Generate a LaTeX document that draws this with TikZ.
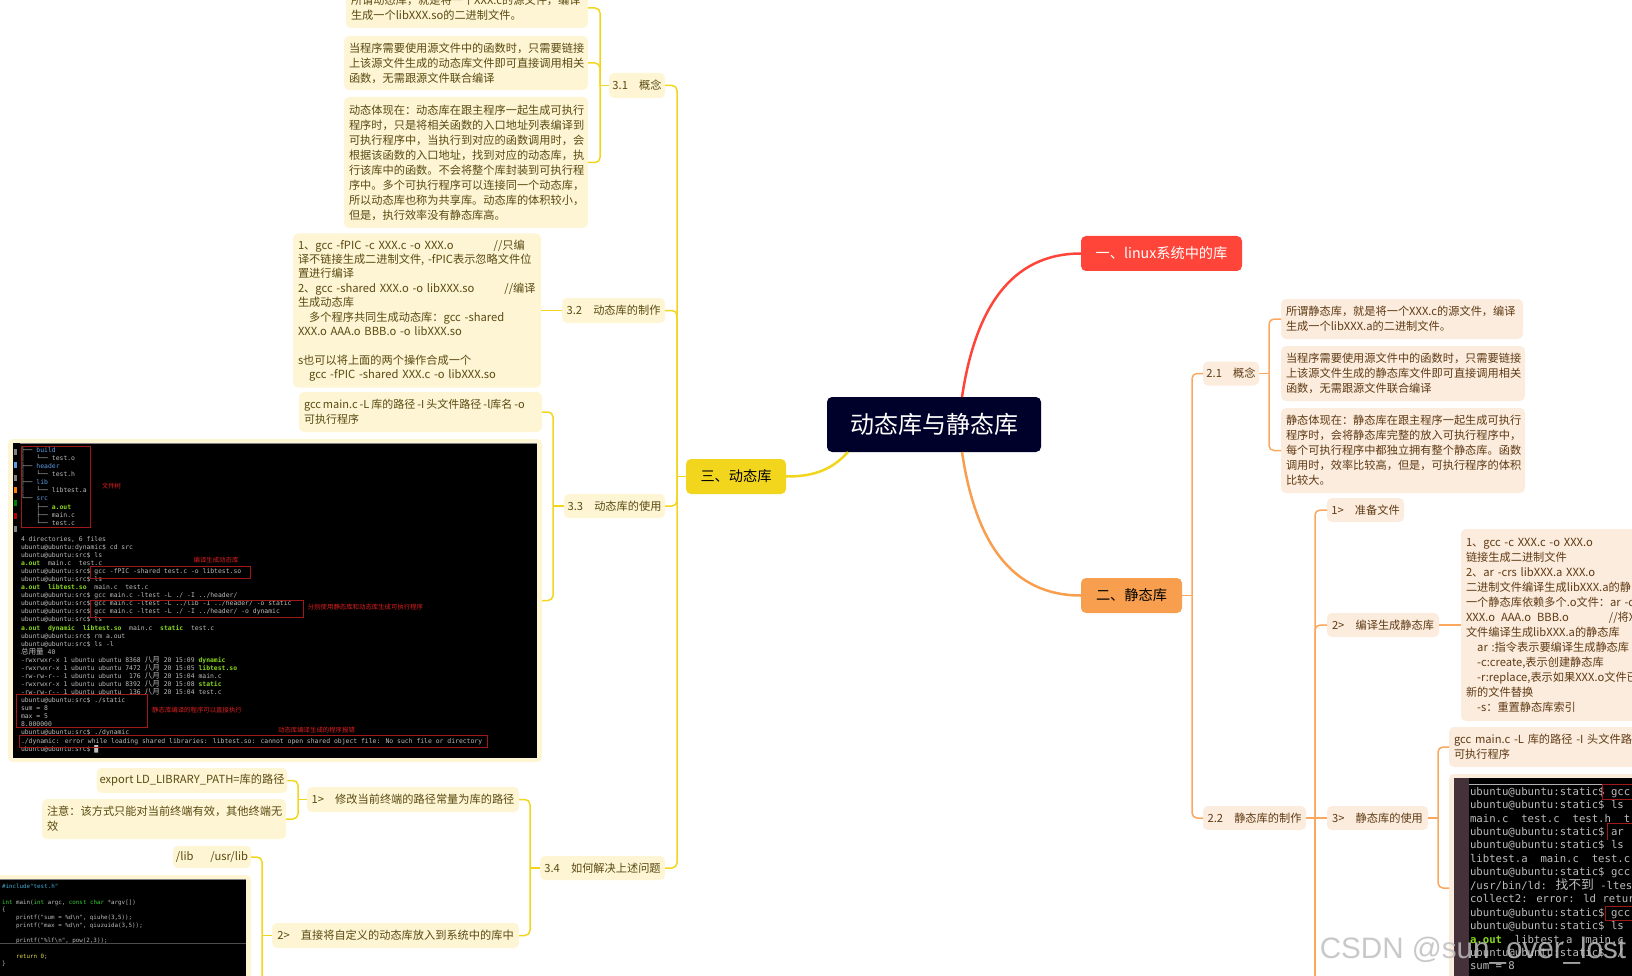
\documentclass[tikz,border=0pt]{standalone}
\usepackage{fontspec}
\setmainfont{Noto Sans CJK SC}
\newfontfamily\termfont{DejaVu Sans Mono}
\newfontfamily\cjk{Noto Sans CJK SC}
\newfontfamily\markfont{Liberation Sans}
\definecolor{rootdark}{HTML}{00012A}
\definecolor{mainred}{HTML}{FF453A}
\definecolor{mainorg}{HTML}{F79F4E}
\definecolor{mainyel}{HTML}{F2D61E}
\definecolor{lineorg}{HTML}{FBA85E}
\definecolor{leafyel}{HTML}{FDF5D3}
\definecolor{leaforg}{HTML}{FCECDD}
\definecolor{txtyel}{HTML}{5A4A12}
\definecolor{txtorg}{HTML}{5E3A14}
\definecolor{termgray}{HTML}{BDBDBD}
\definecolor{termgr}{HTML}{8AD81E}
\definecolor{termbl}{HTML}{5C9BE0}
\definecolor{termred}{HTML}{A01818}
\definecolor{markred}{HTML}{E02020}
\definecolor{sidebar}{HTML}{453139}
\newcommand\leaffont{\fontsize{11.2}{15}\selectfont}
\newcommand\termsmall{\termfont\fontsize{6.42}{8.07}\selectfont}
\newcommand\termbig{\termfont\fontsize{10.65}{13.45}\selectfont}
\newcommand\termcode{\termfont\fontsize{5.85}{7.67}\selectfont}
\newcommand\gr[1]{\textcolor{termgr}{\bfseries #1}}
\newcommand\bl[1]{\textcolor{termbl}{#1}}
\newcommand\zh[1]{{\cjk\fontsize{7.6}{8}\selectfont #1}}
\newcommand\prompt{ubuntu@ubuntu:src\$}
\newcommand\sprompt{ubuntu@ubuntu:static\$}
\newcommand\tabin{\hspace*{15.4pt}}
\newcommand\codein{\hspace*{14pt}}
\newcommand\ind{\hspace*{11.2pt}}
\tikzset{
  sz/.style 2 args={text width=#1pt-10pt, minimum height=#2pt},
  tg/.style 2 args={minimum width=#1pt, minimum height=#2pt, inner xsep=3pt, align=center},
  box/.style={rounded corners=5pt, inner xsep=5pt, inner ysep=0pt, outer sep=0pt, align=left, font=\leaffont},
  leafy/.style={box, fill=leafyel, text=txtyel},
  leafo/.style={box, fill=leaforg, text=txtorg},
  mainbox/.style={box, align=center, font=\fontsize{14.2}{18}\selectfont},
  lny/.style={draw=mainyel, line width=1.5pt, rounded corners=5pt},
  lno/.style={draw=lineorg, line width=1.5pt, rounded corners=5pt},
  termtext/.style={inner sep=0pt, outer sep=0pt, anchor=north west, align=left, text=termgray},
  redbox/.style={draw=termred, line width=0.5pt},
  redmark/.style={inner sep=0pt, text=markred, font=\cjk\fontsize{6.4}{8}\selectfont}
}
\begin{document}
\begin{tikzpicture}[x=1pt,y=-1pt]
\clip (0,0) rectangle (1632,976);
\node[box, sz={214}{55}, fill=rootdark, text=white, align=center, font=\fontsize{24}{30}\selectfont] (root) at (934,424.5) {\raisebox{-1.5pt}{动态库与静态库}};
\node[mainbox, sz={161}{35}, fill=mainred, text=white] (n1) at (1161.5,253.5) {\raisebox{-1pt}{一、linux系统中的库}};
\node[mainbox, sz={101}{35}, fill=mainorg, text=black] (n2) at (1131.5,595.5) {\raisebox{-1pt}{二、静态库}};
\node[mainbox, sz={100}{35}, fill=mainyel, text=black] (n3) at (736,476.5) {\raisebox{-1pt}{三、动态库}};

\node[leafy, sz={242}{40}] (n31a) at (467,8) {所谓动态库，就是将一个XXX.c的源文件，编译\\生成一个libXXX.so的二进制文件。};
\node[leafy, sz={244}{54}] (n31b) at (466,63) {当程序需要使用源文件中的函数时，只需要链接\\上该源文件生成的动态库文件即可直接调用相关\\函数，无需跟源文件联合编译};
\node[leafy, sz={244}{131}] (n31c) at (466,162.5) {动态体现在：动态库在跟主程序一起生成可执行\\程序时，只是将相关函数的入口地址列表编译到\\可执行程序中，当执行到对应的函数调用时，会\\根据该函数的入口地址，找到对应的动态库，执\\行该库中的函数。不会将整个库封装到可执行程\\序中。多个可执行程序可以连接同一个动态库，\\所以动态库也称为共享库。动态库的体积较小，\\但是，执行效率没有静态库高。};
\node[leafy, tg={56}{25}] (n31) at (637,85.5) {3.1\hspace{1em}概念};
\node[leafy, sz={248}{154}, font=\fontsize{11.2}{14.4}\selectfont] (n32t) at (417,310.5) {1、gcc -fPIC -c XXX.c -o XXX.o\hspace{40pt}//只编\\译不链接生成二进制文件, -fPIC表示忽略文件位\\置进行编译\\2、gcc -shared XXX.o -o libXXX.so\hspace{30pt}//编译\\生成动态库\\\ind 多个程序共同生成动态库：gcc -shared\\XXX.o AAA.o BBB.o -o libXXX.so\\[14.4pt]s也可以将上面的两个操作合成一个\\\ind gcc -fPIC -shared XXX.c -o libXXX.so};
\node[leafy, tg={103}{25}] (n32) at (613.5,310.5) {3.2\hspace{1em}动态库的制作};
\node[leafy, sz={243}{40}, font=\fontsize{11}{15}\selectfont] (n33t) at (420.5,412) {\mbox{\spaceskip=2pt gcc main.c -L 库的路径 -I 头文件路径 -l库名 -o}\\可执行程序};
\node[leafy, sz={534}{323}] (shot1) at (275,600.5) {};
\node[leafy, tg={101}{24}] (n33) at (614.5,506) {3.3\hspace{1em}动态库的使用};
\node[leafy, tg={188}{25}] (n34e) at (192,780.5) {export LD\_LIBRARY\_PATH=库的路径};
\node[leafy, sz={244}{40}] (n34n) at (164,819) {注意：该方式只能对当前终端有效，其他终端无\\效};
\node[leafy, tg={212}{25}] (n341) at (413,799.5) {1>\hspace{1em}修改当前终端的路径常量为库的路径};
\node[leafy, tg={78}{22}] (n34l) at (212,857) {/lib\hspace{1.5em}/usr/lib};
\node[leafy, sz={271}{235}] (shot2) at (115.5,992.5) {};
\node[leafy, tg={247}{25}] (n342) at (395.5,935.5) {2>\hspace{1em}直接将自定义的动态库放入到系统中的库中};
\node[leafy, tg={125}{24}] (n34) at (602.5,868) {3.4\hspace{1em}如何解决上述问题};

\node[leafo, tg={56}{24}] (n21) at (1231,373.5) {2.1\hspace{1em}概念};
\node[leafo, sz={242}{40}] (n21a) at (1402,319) {所谓静态库，就是将一个XXX.c的源文件，编译\\生成一个libXXX.a的二进制文件。};
\node[leafo, sz={244}{55}] (n21b) at (1403,373.5) {当程序需要使用源文件中的函数时，只需要链接\\上该源文件生成的静态库文件即可直接调用相关\\函数，无需跟源文件联合编译};
\node[leafo, sz={244}{85}] (n21c) at (1403,450.5) {静态体现在：静态库在跟主程序一起生成可执行\\程序时，会将静态库完整的放入可执行程序中，\\每个可执行程序中都独立拥有整个静态库。函数\\调用时，效率比较高，但是，可执行程序的体积\\比较大。};
\node[leafo, tg={103}{24}] (n22) at (1254.5,818) {2.2\hspace{1em}静态库的制作};
\node[leafo, tg={77}{24}] (n221) at (1365.5,510) {1>\hspace{1em}准备文件};
\node[leafo, tg={112}{24}] (n222) at (1383,625) {2>\hspace{1em}编译生成静态库};
\node[leafo, sz={239}{192}] (n222t) at (1580.5,625) {1、gcc -c XXX.c -o XXX.o\\链接生成二进制文件\\2、ar -crs libXXX.a XXX.o\\二进制文件编译生成libXXX.a的静\\一个静态库依赖多个.o文件：ar -c\\XXX.o\hspace{6pt}AAA.o\hspace{6pt}BBB.o\hspace{40pt}//将X\\文件编译生成libXXX.a的静态库\\\ind ar :指令表示要编译生成静态库\\\ind -c:create,表示创建静态库\\\ind -r:replace,表示如果XXX.o文件已\\新的文件替换\\\ind -s：重置静态库索引};
\node[leafo, tg={101}{24}] (n223) at (1377.5,818) {3>\hspace{1em}静态库的使用};
\node[leafo, sz={241}{40}] (n223a) at (1569.5,747) {gcc main.c -L 库的路径 -I 头文件路径\\可执行程序};
\node[leafo, sz={241}{228}] (shot3) at (1569.5,888) {};

\coordinate (t3) at (677,476.5);
\coordinate (t31) at (600,85.5);
\coordinate (t33) at (553,506);
\coordinate (t34) at (530,868);
\coordinate (t341) at (298,799.5);
\coordinate (t342) at (262,935.5);
\coordinate (t2) at (1192,595.5);
\coordinate (t21) at (1269,373.5);
\coordinate (t22) at (1315,818);
\coordinate (t22end) at (1315,1000);
\coordinate (t223) at (1438,818);

\draw[draw=mainred, line width=2.5pt] ([xshift=28pt]root.north) .. controls (975,310) and (1010,253.5) .. (n1.west);
\draw[draw=mainorg, line width=2.5pt] ([xshift=28pt]root.south) .. controls (975,540) and (1010,595.5) .. (n2.west);
\draw[draw=mainyel, line width=2.5pt] ([xshift=-86pt]root.south) .. controls (830,472) and (810,476.5) .. (n3.east);

\draw[lny] (t3) -- (n3.west);
\draw[lny] (n31.east) -| (t3);
\draw[lny] (n32.east) -| (t3);
\draw[lny] (n33.east) -| (t3);
\draw[lny] (n34.east) -| (t3);
\draw[lny] (n31a.east) -| (t31);
\draw[lny] (n31b.east) -| (t31);
\draw[lny] (n31c.east) -| (t31);
\draw[lny] (t31) -- (n31.west);
\draw[lny] (n32t.east) -- (n32.west);
\draw[lny] (n33t.east) -| (t33);
\draw[lny] (shot1.east) -| (t33);
\draw[lny] (t33) -- (n33.west);
\draw[lny] (n341.east) -| (t34);
\draw[lny] (n342.east) -| (t34);
\draw[lny] (t34) -- (n34.west);
\draw[lny] (n34e.east) -| (t341);
\draw[lny] (n34n.east) -| (t341);
\draw[lny] (t341) -- (n341.west);
\draw[lny] (n34l.east) -| (t342);
\draw[lny] (shot2.east) -| (t342);
\draw[lny] (t342) -- (n342.west);

\draw[lno] (t2) -- (n2.east);
\draw[lno] (n21.west) -| (t2);
\draw[lno] (n22.west) -| (t2);
\draw[lno] (n21a.west) -| (t21);
\draw[lno] (n21c.west) -| (t21);
\draw[lno] (t21) -- (n21.east);
\draw[lno] (n221.west) -| (t22);
\draw[lno] (n222.west) -| (t22);
\draw[lno] (t22end) -- (t22);
\draw[lno] (n22.east) -- (n223.west);
\draw[lno] (n222.east) -- (n222t.west);
\draw[lno] (n223a.west) -| (t223);
\draw[lno] (shot3.west) -| (t223);
\draw[lno] (t223) -- (n223.east);

\fill[black] (13,443) rectangle (537,758);
\draw[gray, line width=0.8pt] (20,443.5) -- (537,443.5);
\fill[gray] (13.5,449) rectangle (17,455);
\fill[termbl] (13.5,462) rectangle (17,468);
\fill[gray] (13.5,475) rectangle (17,481);
\fill[orange] (13.5,487) rectangle (17,493);
\fill[green!50!black] (13.5,500) rectangle (17,506);
\fill[red!70!black] (13.5,513) rectangle (17,519);
\fill[gray] (13.5,526) rectangle (17,532);
\node[termtext, font=\termsmall] (term1) at (21,446.5) {├── \bl{build}\\│~~~└── test.o\\├── \bl{header}\\│~~~└── test.h\\├── \bl{lib}\\│~~~└── libtest.a\\└── \bl{src}\\\tabin ├── \gr{a.out}\\\tabin ├── main.c\\\tabin └── test.c\\[8.07pt]4 directories, 6 files\\ubuntu@ubuntu:dynamic\$ cd src\\\prompt{} ls\\\gr{a.out}~~main.c~~test.c\\\prompt{} gcc -fPIC -shared test.c -o libtest.so\\\prompt{} ls\\\gr{a.out}~~\gr{libtest.so}~~main.c~~test.c\\\prompt{} gcc main.c -ltest -L ./ -I ../header/\\\prompt{} gcc main.c -ltest -L ../lib -I ../header/ -o static\\\prompt{} gcc main.c -ltest -L ./ -I ../header/ -o dynamic\\\prompt{} ls\\\gr{a.out}~~\gr{dynamic}~~\gr{libtest.so}~~main.c~~\gr{static}~~test.c\\\prompt{} rm a.out\\\prompt{} ls -l\\\zh{总用量} 40\\-rwxrwxr-x 1 ubuntu ubuntu 8368 \zh{八月} 20 15:09 \gr{dynamic}\\-rwxrwxr-x 1 ubuntu ubuntu 7472 \zh{八月} 20 15:05 \gr{libtest.so}\\-rw-rw-r-- 1 ubuntu ubuntu~~176 \zh{八月} 20 15:04 main.c\\-rwxrwxr-x 1 ubuntu ubuntu 8392 \zh{八月} 20 15:08 \gr{static}\\-rw-rw-r-- 1 ubuntu ubuntu~~136 \zh{八月} 20 15:04 test.c\\\prompt{} ./static\\sum = 8\\max = 5\\8.000000\\\prompt{} ./dynamic\\./dynamic: error while loading shared libraries: libtest.so: cannot open shared object file: No such file or directory\\\prompt{} █};
\draw[redbox] (21,446) rectangle (90.5,527);
\draw[redbox] (90.5,566) rectangle (250,578);
\draw[redbox] (90.5,600) rectangle (303,617);
\draw[redbox] (16,694) rectangle (147,727);
\draw[redbox] (19,735) rectangle (487.5,747);
\node[redmark] (mark1) at (111.5,486) {文件树};
\node[redmark] (mark2) at (216,560) {编译生成动态库};
\node[redmark] (mark3) at (365.5,607) {分别使用静态库和动态库生成可执行程序};
\node[redmark] (mark4) at (197,710) {静态库编译的程序可以直接执行};
\node[redmark] (mark5) at (316.5,730) {动态库编译生成的程序报错};

\fill[black] (0,879) rectangle (246,976);
\draw[gray, line width=1.2pt] (0,879.5) -- (246,879.5);
\node[termtext, font=\termcode] (code1) at (2,884.5) {\textcolor{cyan!70!gray}{\#include"test.h"}\\[7.67pt]\textcolor{green!60!gray}{int} main(\textcolor{green!60!gray}{int} argc, \textcolor{green!60!gray}{const char} *argv[])\\\{\\\codein printf("sum = \%d\textbackslash n", qiuhe(3,5));\\\codein printf("max = \%d\textbackslash n", qiuzuida(3,5));\\[7.67pt]\codein printf("\%lf\textbackslash n", pow(2,3));\\[7.67pt]\codein \textcolor{yellow!70!gray}{return 0};\\\}};
\draw[gray!60!black, line width=0.4pt] (0,943) -- (246,943);

\fill[black] (1454,778) rectangle (1632,976);
\fill[sidebar] (1454,778) rectangle (1469,976);
\draw[gray!60!white, line width=0.8pt] (1469,784) -- (1632,784);
\node[termtext, font=\termbig] (term2) at (1470,787) {\sprompt{} gcc\\\sprompt{} ls\\main.c~~test.c~~test.h~~t\\\sprompt{} ar\\\sprompt{} ls\\libtest.a~~main.c~~test.c\\\sprompt{} gcc\\/usr/bin/ld: {\cjk\fontsize{12.8}{13}\selectfont 找不到} -ltes\\collect2: error: ld retur\\\sprompt{} gcc\\\sprompt{} ls\\\gr{a.out}~~libtest.a~~main.c\\\sprompt{} ./\\sum = 8};
\draw[redbox] (1632,784) -- (1602,784) -- (1602,799) -- (1632,799);
\draw[redbox] (1632,823) -- (1607,823) -- (1607,840);
\draw[redbox] (1632,906) -- (1605,906) -- (1605,920) -- (1632,920);

\node[inner sep=0pt, text=gray!50!white, opacity=0.85, font=\markfont\fontsize{29.6}{32}\selectfont] (mark) at (1473,951) {CSDN @sun\_over\_lost};
\end{tikzpicture}
\end{document}
